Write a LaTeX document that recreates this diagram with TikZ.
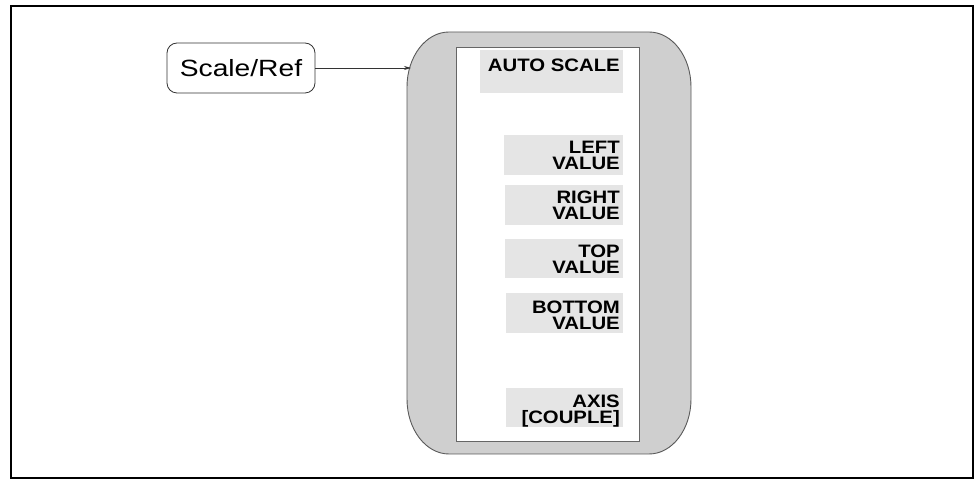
\documentclass[tikz,border=0pt]{standalone}
\usepackage{fontspec}
\setmainfont{Liberation Sans}
\newfontfamily\keyfont[FakeStretch=1.13]{Liberation Sans}
\newfontfamily\hardfont[FakeStretch=1.2]{Liberation Sans}
\usetikzlibrary{arrows.meta}
\begin{document}
\begin{tikzpicture}[x=1pt,y=1pt,
  panelfill/.style={fill=black!19, draw=black!65, line width=0.9pt},
  screen/.style={fill=white, draw=black!60, line width=0.9pt},
  keybg/.style={fill=black!10, draw=none},
  keytext/.style={anchor=base east, inner sep=0pt, align=right,
     font=\keyfont\bfseries\fontsize{18}{16.5}\selectfont},
  hardkey/.style={draw=black!80, line width=0.8pt, rounded corners=10pt, fill=white,
     minimum width=148pt, minimum height=50pt, inner sep=0pt,
     font=\hardfont\fontsize{23.5}{26}\selectfont},
  conn/.style={draw=black!80, line width=0.7pt, -{Stealth[length=7pt,width=4pt]}}
]
\useasboundingbox (0,0) rectangle (977,479);
% outer frame
\draw[line width=2pt] (11,1) rectangle (973,473);
% gray panel
\path[panelfill] (449,447) -- (649,447)
  arc[start angle=90,end angle=0,x radius=42,y radius=55] -- (691,80)
  arc[start angle=0,end angle=-90,x radius=42,y radius=55] -- (449,25)
  arc[start angle=270,end angle=180,x radius=42,y radius=55] -- (407,392)
  arc[start angle=180,end angle=90,x radius=42,y radius=55] -- cycle;
% screen
\path[screen] (456,38) rectangle (639,432);
% key backgrounds
\path[keybg] (480,386) rectangle (623,429);
\path[keybg] (504,304) rectangle (623,344);
\path[keybg] (505,254) rectangle (623,294);
\path[keybg] (505,201) rectangle (623,240);
\path[keybg] (506,146) rectangle (623,186);
\path[keybg] (506,52) rectangle (623,91);
% key labels (anchor at the baseline of the last line)
\node[keytext] (auto) at (620,407) {AUTO SCALE};
\node[keytext] (left) at (620,309) {LEFT\\VALUE};
\node[keytext] (right) at (620,259) {RIGHT\\VALUE};
\node[keytext] (top) at (620,205) {TOP\\VALUE};
\node[keytext] (bottom) at (620,149) {BOTTOM\\VALUE};
\node[keytext] (axis) at (620,55) {AXIS\\{[COUPLE]}};
% hardkey
\node[hardkey] (scale) at (241,411) {Scale/Ref};
\coordinate (tip) at (411,411);
\draw[conn] (scale.east) -- (tip);
\end{tikzpicture}
\end{document}
